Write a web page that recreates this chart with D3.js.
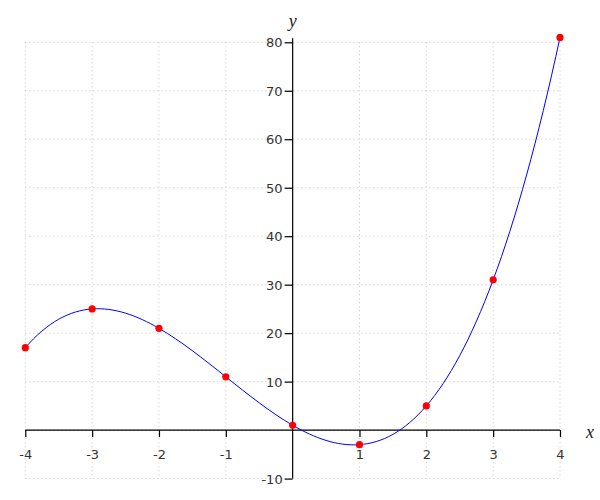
<!DOCTYPE html>
<html><head><meta charset="utf-8">
<script src="https://cdn.jsdelivr.net/npm/d3@7"></script>
<style>body{margin:0;background:#fff}</style>
</head><body>
<svg id="c" width="600" height="500"></svg>
<script>
const xValues = [-4, -3, -2, -1, 0, 1, 2, 3, 4];
const yValues = [17, 25, 21, 11, 1, -3, 5, 31, 81];
const xTicks = [-4, -3, -2, -1, 1, 2, 3, 4];
const yTicks = [-10, 10, 20, 30, 40, 50, 60, 70, 80];
const xGrid = [-4, -3, -2, -1, 0, 1, 2, 3, 4];
const yGrid = [-10, 0, 10, 20, 30, 40, 50, 60, 70, 80];

// Custom d3 curve: cubic spline with "not-a-knot" end conditions
function CurveNotAKnot(context) { this._context = context; }
CurveNotAKnot.prototype = {
  areaStart() { this._line = 0; },
  areaEnd() { this._line = NaN; },
  lineStart() { this._x = []; this._y = []; },
  point(x, y) { this._x.push(+x); this._y.push(+y); },
  lineEnd() {
    const X = this._x, Y = this._y, n = X.length, ctx = this._context;
    if (!n) return;
    if (this._line || (this._line !== 0 && n === 1)) ctx.lineTo(X[0], Y[0]); else ctx.moveTo(X[0], Y[0]);
    if (n < 4) { for (let i = 1; i < n; i++) ctx.lineTo(X[i], Y[i]); this._line = 1 - this._line; return; }
    const h = []; for (let i = 0; i < n - 1; i++) h.push(X[i + 1] - X[i]);
    const A = [], b = [];
    for (let i = 0; i < n; i++) { A.push(new Array(n).fill(0)); b.push(0); }
    A[0][0] = h[1]; A[0][1] = -(h[0] + h[1]); A[0][2] = h[0];
    for (let i = 1; i < n - 1; i++) {
      A[i][i - 1] = h[i - 1]; A[i][i] = 2 * (h[i - 1] + h[i]); A[i][i + 1] = h[i];
      b[i] = 6 * ((Y[i + 1] - Y[i]) / h[i] - (Y[i] - Y[i - 1]) / h[i - 1]);
    }
    A[n - 1][n - 3] = h[n - 2]; A[n - 1][n - 2] = -(h[n - 3] + h[n - 2]); A[n - 1][n - 1] = h[n - 3];
    // Gaussian elimination with partial pivoting
    for (let c = 0; c < n; c++) {
      let p = c; for (let r = c + 1; r < n; r++) if (Math.abs(A[r][c]) > Math.abs(A[p][c])) p = r;
      [A[c], A[p]] = [A[p], A[c]]; [b[c], b[p]] = [b[p], b[c]];
      for (let r = c + 1; r < n; r++) {
        const f = A[r][c] / A[c][c];
        for (let k = c; k < n; k++) A[r][k] -= f * A[c][k];
        b[r] -= f * b[c];
      }
    }
    const M = new Array(n).fill(0);
    for (let r = n - 1; r >= 0; r--) {
      let s = b[r]; for (let k = r + 1; k < n; k++) s -= A[r][k] * M[k];
      M[r] = s / A[r][r];
    }
    for (let i = 0; i < n - 1; i++) {
      const hi = h[i], dy = (Y[i + 1] - Y[i]) / hi;
      const s0 = dy - hi * (2 * M[i] + M[i + 1]) / 6;
      const s1 = dy + hi * (M[i] + 2 * M[i + 1]) / 6;
      ctx.bezierCurveTo(X[i] + hi / 3, Y[i] + s0 * hi / 3, X[i + 1] - hi / 3, Y[i + 1] - s1 * hi / 3, X[i + 1], Y[i + 1]);
    }
    this._line = 1 - this._line;
  }
};
const curveNotAKnot = ctx => new CurveNotAKnot(ctx);

const svg = d3.select("#c");
const x = d3.scaleLinear().domain([-4, 4]).range([25.3, 560]);
const y = d3.scaleLinear().domain([-10, 80]).range([478.6, 42.3]);

const grid = svg.append("g").attr("stroke", "#c4c4c4").attr("stroke-width", 1).attr("stroke-dasharray", "1,3");
grid.selectAll(".gv").data(xGrid).join("line")
  .attr("x1", d => x(d)).attr("x2", d => x(d)).attr("y1", y(80)).attr("y2", y(-10));
grid.selectAll(".gh").data(yGrid).join("line")
  .attr("x1", x(-4)).attr("x2", x(4)).attr("y1", d => y(d)).attr("y2", d => y(d));

const fmt = d => String(d);
// x axis
const xa = svg.append("g").attr("transform", `translate(0,${y(0)})`)
  .call(d3.axisBottom(x).tickValues(xTicks).tickSize(7).tickSizeOuter(0).tickFormat(fmt));
xa.select(".domain").attr("d", `M${x(-4)},0H${x(4)}`);
// y axis
const ya = svg.append("g").attr("transform", `translate(${x(0)},0)`)
  .call(d3.axisLeft(y).tickValues(yTicks).tickSize(8).tickSizeOuter(0).tickFormat(fmt));
ya.select(".domain").attr("d", `M0,${y(80) - 4}V${y(-10)}`);

[xa, ya].forEach(a => {
  a.selectAll(".domain").attr("stroke", "#000").attr("stroke-width", 1.2);
  a.selectAll(".tick line").attr("stroke", "#000").attr("stroke-width", 1.2);
  a.selectAll("text").attr("fill", "#333").style("font-family", "DejaVu Sans, sans-serif").style("font-size", "13px");
});
xa.selectAll(".tick text").attr("dy", "1.45em");
ya.selectAll(".tick text").attr("x", -10).attr("dy", "0.36em");

// axis labels
svg.append("text").attr("x", x(0)).attr("y", 27).attr("text-anchor", "middle")
  .style("font-family", "Liberation Serif, serif").style("font-style", "italic").style("font-size", "18px").attr("fill", "#222").text("y");
svg.append("text").attr("x", 590).attr("y", 438).attr("text-anchor", "middle")
  .style("font-family", "Liberation Serif, serif").style("font-style", "italic").style("font-size", "18px").attr("fill", "#222").text("x");

const pts = xValues.map((v, i) => [v, yValues[i]]);
const line = d3.line().x(d => x(d[0])).y(d => y(d[1])).curve(curveNotAKnot);
svg.append("path").datum(pts).attr("d", line).attr("fill", "none").attr("stroke", "#0000ff").attr("stroke-width", 1);

svg.selectAll(".pt").data(pts).join("circle")
  .attr("cx", d => x(d[0])).attr("cy", d => y(d[1])).attr("r", 3.6).attr("fill", "#ff0000");
</script>
</body></html>
